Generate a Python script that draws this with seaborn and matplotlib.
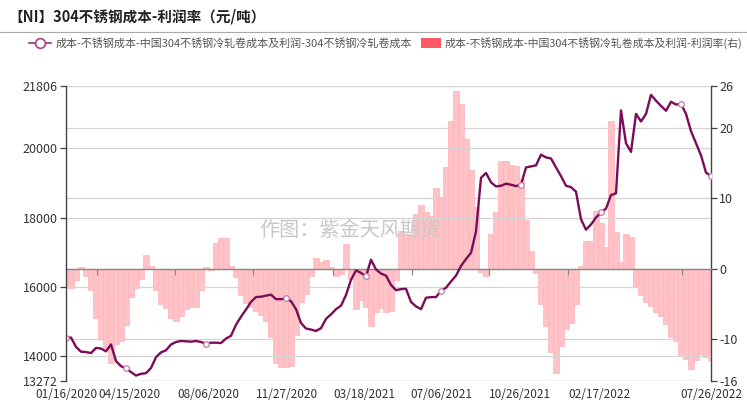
import numpy as np
import pandas as pd
import matplotlib
matplotlib.use("Agg")
import matplotlib.pyplot as plt
from matplotlib.lines import Line2D
from matplotlib.patches import Patch
import seaborn as sns

# ---------------- data ----------------
title = "【NI】304不锈钢成本-利润率（元/吨）"
line_name = "成本-不锈钢成本-中国304不锈钢冷轧卷成本及利润-304不锈钢冷轧卷成本"
bar_name = "成本-不锈钢成本-中国304不锈钢冷轧卷成本及利润-利润率(右)"
watermark = "作图：紫金天风期货"

start_date = "2020-01-16"
end_date = "2022-07-26"

cost = [
    14507, 14530, 14260, 14120, 14110, 14080, 14230, 14210, 14130, 14330,
    13850, 13700, 13640, 13530, 13430, 13480, 13500, 13650, 13960, 14100,
    14160, 14330, 14400, 14430, 14420, 14410, 14430, 14400, 14350, 14380,
    14380, 14370, 14500, 14580, 14900, 15130, 15340, 15560, 15700, 15710,
    15740, 15770, 15640, 15640, 15660, 15580, 15350, 14950, 14790, 14760,
    14720, 14800, 15070, 15200, 15350, 15450, 15760, 16200, 16470, 16400,
    16300, 16780, 16500, 16380, 16320, 16050, 15900, 15930, 15940, 15560,
    15430, 15350, 15680, 15700, 15700, 15880, 15970, 16150, 16320, 16600,
    16800, 16980, 17600, 19150, 19290, 19020, 18900, 18920, 18980, 18950,
    18910, 18950, 19450, 19480, 19510, 19820, 19740, 19710, 19450, 19200,
    18920, 18880, 18750, 17950, 17650, 17800, 18000, 18150, 18260, 18650,
    18700, 21100, 20150, 19900, 21000, 20780, 21000, 21550, 21380, 21230,
    21090, 21350, 21270, 21290, 21000, 20500, 20150, 19800, 19300, 19200,
]

profit_rate = [
    -2.5, -2.8, -1.6, 0.2, -1.0, -3.0, -7.0, -10.0, -11.3, -13.5,
    -10.8, -10.3, -8.0, -4.0, -2.8, -1.5, 1.9, 0.4, -3.0, -5.0,
    -5.6, -7.0, -7.4, -6.8, -5.8, -5.5, -5.4, -3.0, 0.3, -0.2,
    3.7, 4.4, 4.3, 0.4, -1.2, -3.7, -4.9, -5.5, -6.0, -6.6,
    -7.5, -9.8, -13.5, -14.0, -14.0, -13.8, -9.5, -4.8, -3.6, -1.0,
    1.5, 1.0, 1.2, 0.2, -1.0, -0.8, 3.5, -1.5, -5.8, -4.5,
    -5.5, -8.2, -6.2, -5.6, -6.2, -6.0, -1.6, 5.3, 5.0, 4.8,
    7.8, 9.0, 8.1, 7.5, 11.5, 10.2, 14.5, 21.0, 25.3, 23.5,
    18.5, 14.0, 8.8, -0.5, -1.0, 5.0, 8.0, 15.3, 15.3, 14.7,
    14.6, 12.8, 6.9, 2.5, -0.6, -5.0, -8.2, -11.8, -14.8, -11.0,
    -8.6, -7.8, -5.0, 0.4, 4.0, 4.0, 8.2, 6.5, 3.1, 21.0,
    5.2, 1.0, 5.0, 4.5, -2.5, -3.8, -4.7, -5.3, -6.2, -6.8,
    -7.9, -9.7, -10.3, -12.4, -12.8, -14.3, -13.0, -12.2, -12.6, -13.0,
]

tick_dates = ["2020-01-16", "2020-04-15", "2020-08-06", "2020-11-27", "2021-03-18",
              "2021-07-06", "2021-10-26", "2022-02-17", "2022-07-26"]
tick_labels = ["01/16/2020", "04/15/2020", "08/06/2020", "11/27/2020", "03/18/2021",
               "07/06/2021", "10/26/2021", "02/17/2022", "07/26/2022"]
zero_tick_dates = ["2020-02-29", "2020-06-20", "2020-10-09", "2021-02-01",
                   "2021-05-25", "2021-09-12", "2022-01-03", "2022-06-14"]
marker_dates = ["2020-01-16", "2020-04-12", "2020-08-04", "2020-11-27", "2021-03-18",
                "2021-07-06", "2021-10-26", "2022-02-20", "2022-06-14", "2022-07-26"]
left_ticks = [13272, 14000, 16000, 18000, 20000, 21806]
right_ticks = [-16, -10, 0, 10, 20, 26]

dates = pd.date_range(start_date, end_date, periods=len(cost))
df = pd.DataFrame({"date": dates, "cost": cost, "rate": profit_rate})
marker_idx = [int(np.abs((dates - pd.Timestamp(d)).days).argmin()) for d in marker_dates]
step_days = (dates[1] - dates[0]).total_seconds() / 86400.0

# ---------------- style ----------------
sns.set_theme(style="white")
plt.rcParams["font.family"] = ["Noto Sans CJK SC", "DejaVu Sans"]
plt.rcParams["axes.unicode_minus"] = False

W, H = 747, 403
fig = plt.figure(figsize=(W / 100, H / 100), dpi=100)
rect = [66 / W, 1 - 381 / H, 645 / W, 295 / H]
ax1 = fig.add_axes(rect)
ax2 = ax1.twinx()
ax3 = fig.add_axes(rect)

line_color = "#7A0C5A"
bar_color = "#FFC3C7"
grid_color = "#D4D4D4"
axis_color = "#444444"
text_color = "#333333"

# bars (right axis)
ax2.bar(df["date"], df["rate"], width=step_days * 1.02, color=bar_color,
        edgecolor="#FFB2B8", linewidth=0.5, zorder=2)
ax2.set_ylim(-16, 26)
ax2.set_yticks(right_ticks)
ax2.set_yticklabels([str(v) for v in right_ticks])
ax2.grid(axis="y", color=grid_color, lw=0.9)
ax2.set_axisbelow(True)

# line (left axis)
sns.lineplot(data=df, x="date", y="cost", ax=ax1, color=line_color, lw=1.7,
             marker="o", markevery=marker_idx, markerfacecolor="white",
             markeredgecolor="#C07AA8", markersize=4, markeredgewidth=0.9)
ax1.set_ylim(13272, 21806)
ax1.set_yticks(left_ticks)
ax1.set_yticklabels([str(v) for v in left_ticks])
ax1.grid(axis="y", color=grid_color, lw=0.9)
ax1.grid(axis="x", visible=False)
ax1.set_xlabel("")
ax1.set_ylabel("")
ax2.set_ylabel("")

xlim = (pd.Timestamp(start_date), pd.Timestamp(end_date))
ax1.set_xlim(xlim)
ax1.set_xticks(pd.to_datetime(tick_dates))
ax1.set_xticklabels(tick_labels)

ax1.set_zorder(3)
ax1.patch.set_visible(False)
ax2.set_zorder(1)
ax3.set_zorder(2)

for sp in ["top", "right", "bottom"]:
    ax1.spines[sp].set_visible(False)
ax1.spines["left"].set_color(axis_color)
ax1.spines["left"].set_linewidth(1.0)
for sp in ["top", "left", "bottom"]:
    ax2.spines[sp].set_visible(False)
ax2.spines["right"].set_color(axis_color)
ax2.spines["right"].set_linewidth(1.0)

ax1.tick_params(axis="y", left=True, length=4, width=0.9, color=axis_color,
                labelsize=9, labelcolor=text_color, pad=2)
ax1.tick_params(axis="x", bottom=True, length=0, labelsize=8.5,
                labelcolor=text_color, pad=5)
ax2.tick_params(axis="y", right=True, length=4, width=0.9, color=axis_color,
                labelsize=9, labelcolor=text_color, pad=2)

# zero line with small ticks
ax3.set_xlim(xlim)
ax3.set_ylim(-16, 26)
ax3.patch.set_visible(False)
for sp in ["top", "left", "right"]:
    ax3.spines[sp].set_visible(False)
ax3.spines["bottom"].set_position(("data", 0))
ax3.spines["bottom"].set_color("#888888")
ax3.spines["bottom"].set_linewidth(1.0)
ax3.set_yticks([])
ax3.set_xticks(pd.to_datetime(zero_tick_dates))
ax3.tick_params(axis="x", bottom=True, length=4, width=0.9, color="#888888",
                labelbottom=False, direction="out")

# title, separator, watermark
fig.text(8 / W, 1 - 16 / H, title, fontsize=10.5, fontweight="bold",
         color="#222222", ha="left", va="center")
fig.add_artist(Line2D([0, 1], [1 - 31.5 / H, 1 - 31.5 / H], color="#AAAAAA",
                      lw=0.8, transform=fig.transFigure))
fig.text(350 / W, 1 - 231 / H, watermark, fontsize=14.5, color="#C8C8C8",
         ha="center", va="center", zorder=10)

# legends
h1 = Line2D([], [], color="#A8508A", lw=1.5, marker="o", markerfacecolor="white",
            markeredgecolor="#A8508A", markersize=7, markeredgewidth=1.3)
leg1 = fig.legend([h1], [line_name], loc="center left",
                  bbox_to_anchor=(29 / W, 1 - 43 / H), frameon=False, fontsize=7.95,
                  handlelength=2.0, handletextpad=0.45, borderpad=0,
                  borderaxespad=0, labelcolor="#555555")
h2 = Patch(facecolor="#FF5A64", edgecolor="none")
leg2 = fig.legend([h2], [bar_name], loc="center left",
                  bbox_to_anchor=(421 / W, 1 - 43 / H), frameon=False, fontsize=7.85,
                  handlelength=1.8, handleheight=1.0, handletextpad=0.4,
                  borderpad=0, borderaxespad=0, labelcolor="#555555")

fig.savefig("out.png", dpi=100)
